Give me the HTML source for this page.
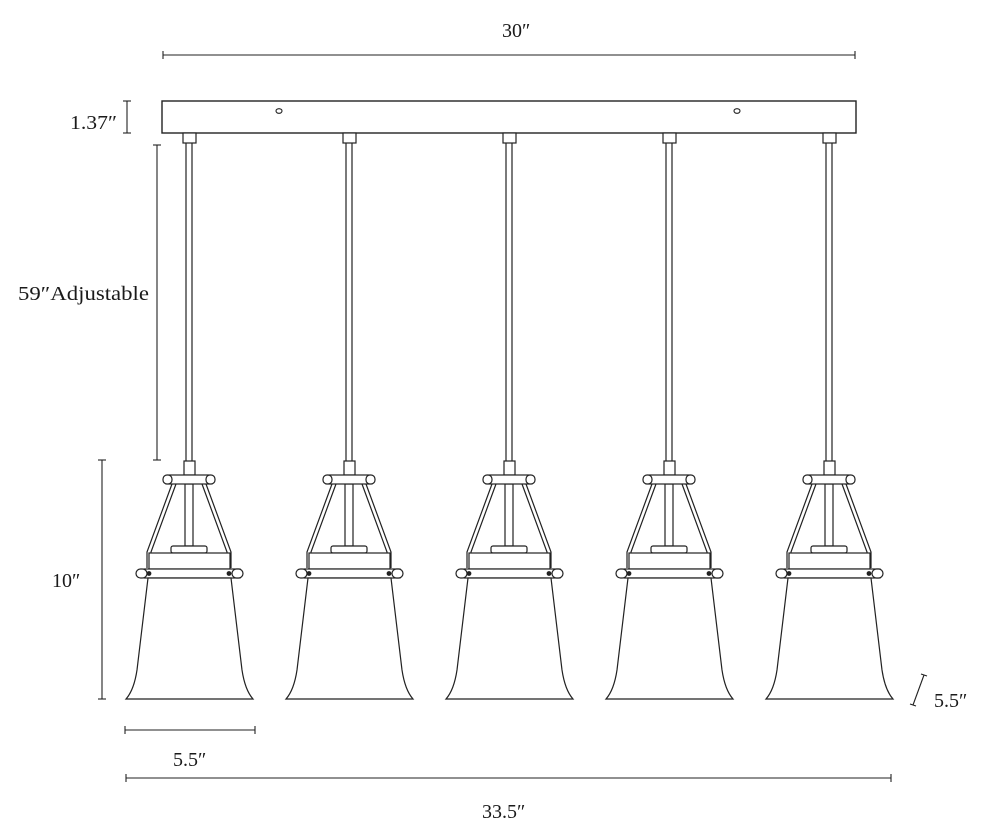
<!DOCTYPE html>
<html><head><meta charset="utf-8"><style>
html,body{margin:0;padding:0;background:#fff;}
svg{display:block;}
text{font-family:"Liberation Serif",serif;font-size:20px;fill:#1a1a1a;}
</style></head><body>
<svg width="990" height="840" viewBox="0 0 990 840" xmlns="http://www.w3.org/2000/svg">
<defs>
<g id="p" fill="#fff" stroke="#222" stroke-width="1.2">
  <rect x="-6" y="133" width="13" height="10"/>
  <line x1="-3" y1="143" x2="-3" y2="461"/>
  <line x1="3" y1="143" x2="3" y2="461"/>
  <rect x="-5" y="461" width="11" height="14"/>
  <path d="M-17 484 L-42 552 L-42 568" fill="none"/>
  <path d="M-13 484 L-38 552 L-38 568" fill="none"/>
  <path d="M17 484 L42 552 L42 568" fill="none"/>
  <path d="M13 484 L38 552 L38 568" fill="none"/>
  <rect x="-4" y="484" width="8" height="62"/>
  <rect x="-18" y="546" width="36" height="7" rx="2"/>
  <rect x="-40" y="553" width="81" height="16"/>
  <rect x="-20" y="475" width="40" height="9"/>
  <rect x="-26" y="475" width="9" height="9" rx="4"/>
  <rect x="17" y="475" width="9" height="9" rx="4"/>
  <rect x="-45" y="569" width="96" height="9"/>
  <rect x="-53" y="569" width="11" height="9" rx="4.5"/>
  <rect x="43" y="569" width="11" height="9" rx="4.5"/>
  <circle cx="-40" cy="573.5" r="1.8" fill="#222"/>
  <circle cx="40" cy="573.5" r="1.8" fill="#222"/>
  <path d="M-41 578 L-52 670 Q-55 690 -63 699 L64 699 Q56 690 53 670 L42 578 Z"/>
</g>
</defs>
<g stroke="#222" stroke-width="1.1" fill="none">
  <line x1="163" y1="55" x2="855" y2="55"/>
  <line x1="163" y1="51" x2="163" y2="59"/><line x1="855" y1="51" x2="855" y2="59"/>
  <rect x="162" y="101" width="694" height="32" stroke-width="1.4"/>
  <ellipse cx="279" cy="111" rx="3" ry="2.3"/>
  <ellipse cx="737" cy="111" rx="3" ry="2.3"/>
  <line x1="127" y1="101" x2="127" y2="133"/><line x1="123" y1="101" x2="131" y2="101"/><line x1="123" y1="133" x2="131" y2="133"/>
  <line x1="157" y1="145" x2="157" y2="460"/><line x1="153" y1="145" x2="161" y2="145"/><line x1="153" y1="460" x2="161" y2="460"/>
  <line x1="102" y1="460" x2="102" y2="699"/><line x1="98" y1="460" x2="106" y2="460"/><line x1="98" y1="699" x2="106" y2="699"/>
  <line x1="125" y1="730" x2="255" y2="730"/><line x1="125" y1="726" x2="125" y2="734"/><line x1="255" y1="726" x2="255" y2="734"/>
  <line x1="126" y1="778" x2="891" y2="778"/><line x1="126" y1="774" x2="126" y2="782"/><line x1="891" y1="774" x2="891" y2="782"/>
  <line x1="924" y1="675" x2="913" y2="705"/><line x1="921" y1="674" x2="927" y2="676"/><line x1="910" y1="704" x2="916" y2="706"/>
</g>
<use href="#p" x="189"/>
<use href="#p" x="349"/>
<use href="#p" x="509"/>
<use href="#p" x="669"/>
<use href="#p" x="829"/>
<text x="502" y="37">30″</text>
<text x="70" y="129" textLength="47" lengthAdjust="spacingAndGlyphs">1.37″</text>
<text x="18" y="300" textLength="131" lengthAdjust="spacingAndGlyphs">59″Adjustable</text>
<text x="52" y="587">10″</text>
<text x="173" y="766">5.5″</text>
<text x="482" y="818">33.5″</text>
<text x="934" y="707">5.5″</text>
</svg>
</body></html>
